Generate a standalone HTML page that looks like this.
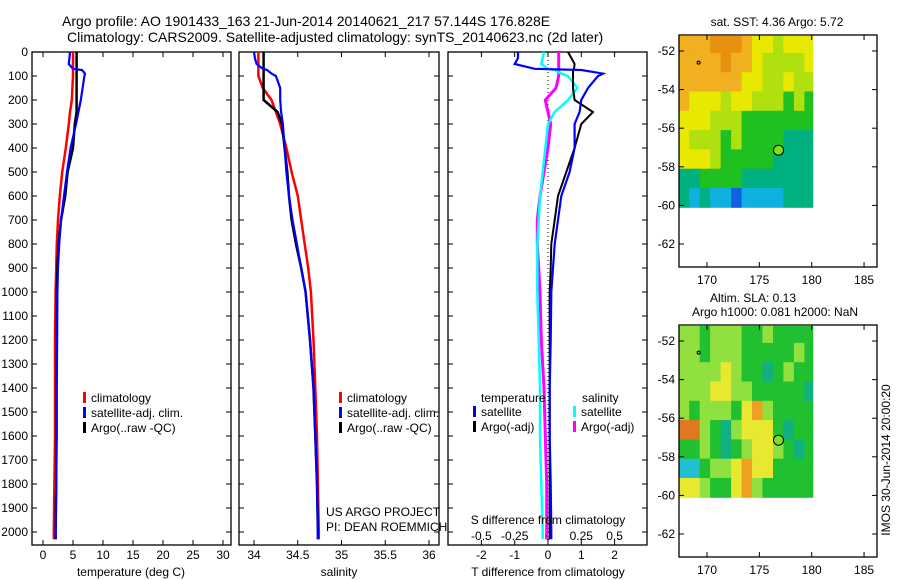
<!DOCTYPE html>
<html><head><meta charset="utf-8"><style>
body{margin:0;background:#fff;}
svg{display:block;font-family:"Liberation Sans",sans-serif;}
text{fill:#000;}
</style></head><body>
<svg id="fig" width="900" height="580" viewBox="0 0 900 580">
<text x="62" y="26" font-size="14">Argo profile: AO 1901433_163 21-Jun-2014 20140621_217 57.144S 176.828E</text>
<text x="67" y="42" font-size="14">Climatology: CARS2009. Satellite-adjusted climatology: synTS_20140623.nc (2d later)</text>
<g id="p1"></g>
<g id="p2"></g>
<g id="p3"></g>
<g id="m1"></g>
<g id="m2"></g>
<text x="131" y="576" font-size="12" text-anchor="middle">temperature (deg C)</text>
<text x="339" y="576" font-size="12" text-anchor="middle">salinity</text>
<text x="548" y="576" font-size="12" text-anchor="middle">T difference from climatology</text>
<text x="548" y="524" font-size="12" text-anchor="middle">S difference from climatology</text>
<text x="326" y="516" font-size="12">US ARGO PROJECT</text>
<text x="326" y="531" font-size="12">PI: DEAN ROEMMICH</text>
<text x="777" y="26" font-size="12" text-anchor="middle">sat. SST: 4.36 Argo: 5.72</text>
<text x="753" y="302" font-size="12" text-anchor="middle">Altim. SLA: 0.13</text>
<text x="775" y="316" font-size="12" text-anchor="middle">Argo h1000: 0.081 h2000: NaN</text>
<text transform="translate(890,460) rotate(-90)" font-size="12" text-anchor="middle">IMOS 30-Jun-2014 20:00:20</text>
</svg>
<script>
// ---- data ----
const depths = [0,25,50,70,75,90,100,150,200,250,300,400,500,600,700,800,900,1000,1200,1400,1600,1800,2000,2030];
const tClim  = [5.0,5.0,5.0,5.0,5.0,5.0,5.0,4.9,4.8,4.5,4.3,3.8,3.2,2.8,2.5,2.3,2.2,2.1,2.0,2.0,2.0,1.9,1.8,1.8];
const tArgo  = [5.6,5.6,5.6,5.6,5.6,5.6,5.6,5.6,5.6,5.6,5.3,5.0,4.1,3.7,3.0,2.6,2.4,2.3,2.3,2.2,2.2,2.2,2.1,2.1];
const tSat   = [4.5,4.4,4.3,5.0,6.5,7.0,6.9,6.6,6.3,5.9,5.5,4.6,4.0,3.5,3.0,2.7,2.5,2.4,2.35,2.3,2.3,2.2,2.1,2.1];
const sClim  = [34.05,34.05,34.05,34.05,34.05,34.05,34.05,34.1,34.2,34.25,34.3,34.37,34.43,34.5,34.54,34.58,34.62,34.65,34.68,34.7,34.72,34.73,34.74,34.74];
const sArgo  = [34.11,34.11,34.11,34.11,34.11,34.11,34.11,34.11,34.11,34.27,34.32,34.35,34.38,34.4,34.43,34.48,34.54,34.59,34.64,34.68,34.7,34.72,34.73,34.73];
const sSat   = [34.0,34.01,34.03,34.1,34.15,34.2,34.25,34.3,34.3,34.31,34.33,34.35,34.37,34.4,34.44,34.49,34.54,34.59,34.64,34.68,34.7,34.72,34.73,34.73];
const dtSat  = [-0.9,-0.9,-1.0,-0.4,1.0,1.65,1.5,1.2,1.0,0.95,0.8,0.8,0.65,0.4,0.3,0.2,0.15,0.1,0.08,0.05,0.05,0.08,0.1,0.1];
const dtArgo = [0.6,0.7,0.8,0.78,0.75,0.75,0.75,0.75,0.8,1.35,1.0,0.8,0.55,0.3,0.2,0.1,0.08,0.05,0.05,0.05,0.05,0.05,0.05,0.05];
const dsSat  = [-0.03,-0.04,-0.05,0.0,0.05,0.1,0.15,0.22,0.15,0.05,0.0,-0.02,-0.04,-0.06,-0.07,-0.08,-0.08,-0.08,-0.07,-0.06,-0.06,-0.05,-0.04,-0.04];
const dsArgo = [0.08,0.08,0.08,0.08,0.08,0.08,0.08,0.06,-0.02,0.0,0.02,0.0,-0.03,-0.06,-0.08,-0.08,-0.07,-0.06,-0.05,-0.03,-0.02,-0.01,-0.01,-0.01];
const depthTicks = [0,100,200,300,400,500,600,700,800,900,1000,1100,1200,1300,1400,1500,1600,1700,1800,1900,2000];
const tTicks = [0,5,10,15,20,25,30];
const sTicks = [34,34.5,35,35.5,36];
const sTickLabels = ["34","34.5","35","35.5","36"];
const dtTicks = [-2,-1,0,1,2];
const dsTicks = [-0.5,-0.25,0,0.25,0.5];
const dsTickLabels = ["-0.5","-0.25","0","0.25","0.5"];
const lonTicks = [170,175,180,185];
const latTicks = [-52,-54,-56,-58,-60,-62];
const gridLons = [167.3,168.3,169.3,170.3,171.3,172.3,173.3,174.3,175.3,176.3,177.3,178.3,179.3];
const gridLats = [-51.1,-52.1,-53.1,-54.1,-55.1,-56.1,-57.1,-58.1,-59.1];
const sstGrid = [
 [6,6,6,7,7,7,6,5,5,4,5,5,5],
 [6,6,6,6,7,6,6,5,4,4,4,4,5],
 [6,6,6,6,6,6,5,5,4,4,5,4,4],
 [6,5,5,5,4,5,5,4,4,4,3,4,3],
 [5,5,5,4,4,4,3,3,3,3,3,3,3],
 [5,4,4,4,3,4,3,3,3,3,2,2,2],
 [5,5,5,4,3,3,3,3,3,2,2,2,2],
 [2,2,3,3,3,3,2,2,2,2,2,2,2],
 [2,1,2,1,1,0,1,1,1,1,2,2,2]];
const slaGrid = [
 [4,4,3,4,4,4,3,3,4,3,3,3,3],
 [4,4,3,4,4,4,3,3,3,3,3,4,3],
 [4,4,4,4,5,4,3,3,2,3,4,3,3],
 [4,4,4,5,5,4,4,3,3,3,3,3,2],
 [4,3,4,4,4,3,5,6,4,3,3,3,3],
 [7,7,4,3,2,4,5,5,5,3,2,3,3],
 [3,3,4,3,2,3,4,5,5,4,3,2,3],
 [1,1,3,4,4,5,6,5,5,3,3,3,3],
 [5,5,4,3,3,5,6,4,3,3,3,3,3]];
const argoLon = 176.83, argoLat = -57.14;
const sstPalette = ["#1060e0","#10b0e0","#00b080","#20c020","#b0e010","#e8e800","#f0b020","#e89010"];
const slaPalette = ["#2090e0","#20c0d0","#10b080","#20c030","#90e040","#e8e830","#f0a020","#e07820"];

// ---- helpers ----
const NS="http://www.w3.org/2000/svg";
function mk(parent,tag,attrs){const e=document.createElementNS(NS,tag);for(const k in attrs)e.setAttribute(k,attrs[k]);parent.appendChild(e);return e;}
const yTop=52, yBot=545;
const yD = d => yTop + 0.24*d;
const xT = t => 43 + 6*t;
const xS = s => 254 + 87.5*(s-34);
const xDT = t => 548 + 33.3*t;
const xDS = s => 548 + 133.2*s;

function frame(g,x0,x1,name){
  const r=mk(g,'rect',{x:x0,y:yTop,width:x1-x0,height:yBot-yTop,fill:'none',stroke:'#000','stroke-width':1.3});
  
  
  depthTicks.forEach(d=>{
    mk(g,'line',{x1:x0,x2:x0+5,y1:yD(d),y2:yD(d),stroke:'#000'});
    mk(g,'line',{x1:x1,x2:x1-5,y1:yD(d),y2:yD(d),stroke:'#000'});
  });
}
function xticks(g,ticks,labels,fx,ylab,withTop){
  ticks.forEach((t,i)=>{
    const x=fx(t);
    mk(g,'line',{x1:x,x2:x,y1:yBot,y2:yBot-5,stroke:'#000'});
    if(withTop) mk(g,'line',{x1:x,x2:x,y1:yTop,y2:yTop+5,stroke:'#000'});
    const tx=mk(g,'text',{x:x,y:ylab,'font-size':12,'text-anchor':'middle'});
    tx.textContent=labels[i];
    
    
  });
}
function profile(g,vals,fx,color,w,name){
  const pts=vals.map((v,i)=>fx(v).toFixed(1)+','+yD(depths[i]).toFixed(1)).join(' ');
  const p=mk(g,'polyline',{points:pts,fill:'none',stroke:color,'stroke-width':w,'stroke-linejoin':'miter'});
  
  
}
function legendEntry(g,x,y,color,label){
  mk(g,'rect',{x:x,y:y-10,width:3,height:11,fill:color});
  const t=mk(g,'text',{x:x+8,y:y,'font-size':12});
  t.textContent=label;
  
  
}

// ---- panel 1 ----
const p1=document.getElementById('p1');
frame(p1,32,231,'temperature-axes');
depthTicks.forEach(d=>{const t=mk(p1,'text',{x:28,y:yD(d)+4,'font-size':12,'text-anchor':'end'});t.textContent=d;
  
  });
xticks(p1,tTicks,tTicks.map(String),xT,559,true);
profile(p1,tClim,xT,'#f00',2.5,'temp-climatology-line');
profile(p1,tArgo,xT,'#000',2.5,'temp-argo-line');
profile(p1,tSat,xT,'#00f',2.2,'temp-satellite-line');
legendEntry(p1,83,402,'#f00','climatology');
legendEntry(p1,83,417,'#00f','satellite-adj. clim.');
legendEntry(p1,83,432,'#000','Argo(..raw -QC)');

// ---- panel 2 ----
const p2=document.getElementById('p2');
frame(p2,239,439,'salinity-axes');
xticks(p2,sTicks,sTickLabels,xS,559,true);
profile(p2,sClim,xS,'#f00',2.5,'sal-climatology-line');
profile(p2,sArgo,xS,'#000',2.5,'sal-argo-line');
profile(p2,sSat,xS,'#00f',2.2,'sal-satellite-line');
legendEntry(p2,339,402,'#f00','climatology');
legendEntry(p2,339,417,'#00f','satellite-adj. clim.');
legendEntry(p2,339,432,'#000','Argo(..raw -QC)');

// ---- panel 3 ----
const p3=document.getElementById('p3');
frame(p3,448,647,'difference-axes');
xticks(p3,dtTicks,dtTicks.map(String),xDT,559,true);
dsTicks.forEach((s,i)=>{const t=mk(p3,'text',{x:xDS(s),y:540,'font-size':12,'text-anchor':'middle'});t.textContent=dsTickLabels[i];
  
  });
mk(p3,'line',{x1:xDT(0),x2:xDT(0),y1:yTop,y2:yBot,stroke:'#000','stroke-dasharray':'1,3'});
profile(p3,dsArgo,xDS,'#f0f',3,'s-diff-argo-line');
profile(p3,dsSat,xDS,'#0ff',2.5,'s-diff-satellite-line');
profile(p3,dtArgo,xDT,'#000',2,'t-diff-argo-line');
profile(p3,dtSat,xDT,'#00f',2.2,'t-diff-satellite-line');
const lt=mk(p3,'text',{x:481,y:402,'font-size':12});lt.textContent='temperature';


const ls=mk(p3,'text',{x:582,y:402,'font-size':12});ls.textContent='salinity';


legendEntry(p3,473,416,'#00f','satellite');
legendEntry(p3,473,431,'#000','Argo(-adj)');
legendEntry(p3,573,416,'#0ff','satellite');
legendEntry(p3,573,431,'#f0f','Argo(-adj)');

// ---- maps ----
function drawMap(g,yTopM,grid,pal,name){
  const x0=679,x1=877,y1=yTopM+232;
  const xL=lon=>707+10.47*(lon-170);
  const yL=lat=>yTopM+16-19.3*(lat+52);
  grid.forEach((row,r)=>row.forEach((v,c)=>{
    const lon=gridLons[c], lat=gridLats[r];
    const bottom = r===gridLats.length-1 ? -60.1 : gridLats[r+1];
    const right = c===gridLons.length-1 ? 180.1 : gridLons[c+1];
    const top = Math.max(yL(lat), yTopM+1);
    const cell=mk(g,'rect',{x:xL(lon).toFixed(1),y:top.toFixed(1),width:(xL(right)-xL(lon)+0.5).toFixed(1),height:(yL(bottom)-top+0.5).toFixed(1),fill:pal[v]});
    
    
  }));
  const fr=mk(g,'rect',{x:x0,y:yTopM,width:x1-x0,height:y1-yTopM,fill:'none',stroke:'#000','stroke-width':1.3});
  
  
  lonTicks.forEach(l=>{const x=xL(l);
    mk(g,'line',{x1:x,x2:x,y1:yTopM,y2:yTopM+5,stroke:'#000'});
    mk(g,'line',{x1:x,x2:x,y1:y1,y2:y1-5,stroke:'#000'});
    const t=mk(g,'text',{x:x,y:y1+17,'font-size':12,'text-anchor':'middle'});t.textContent=l;
    
    });
  latTicks.forEach(l=>{const y=yL(l);
    mk(g,'line',{x1:x0,x2:x0+5,y1:y,y2:y,stroke:'#000'});
    mk(g,'line',{x1:x1,x2:x1-5,y1:y,y2:y,stroke:'#000'});
    const t=mk(g,'text',{x:x0-4,y:y+4,'font-size':12,'text-anchor':'end'});t.textContent=l;
    
    });
  const dot=mk(g,'circle',{cx:xL(169.2),cy:yL(-52.6),r:1.5,fill:'none',stroke:'#000'});
  
  
  const c=mk(g,'circle',{cx:xL(argoLon),cy:yL(argoLat),r:5,fill:'#80e020',stroke:'#000','stroke-width':1});
  
  
}
drawMap(document.getElementById('m1'),35,sstGrid,sstPalette,'sst');
drawMap(document.getElementById('m2'),325,slaGrid,slaPalette,'sla');
</script>
</body></html>
